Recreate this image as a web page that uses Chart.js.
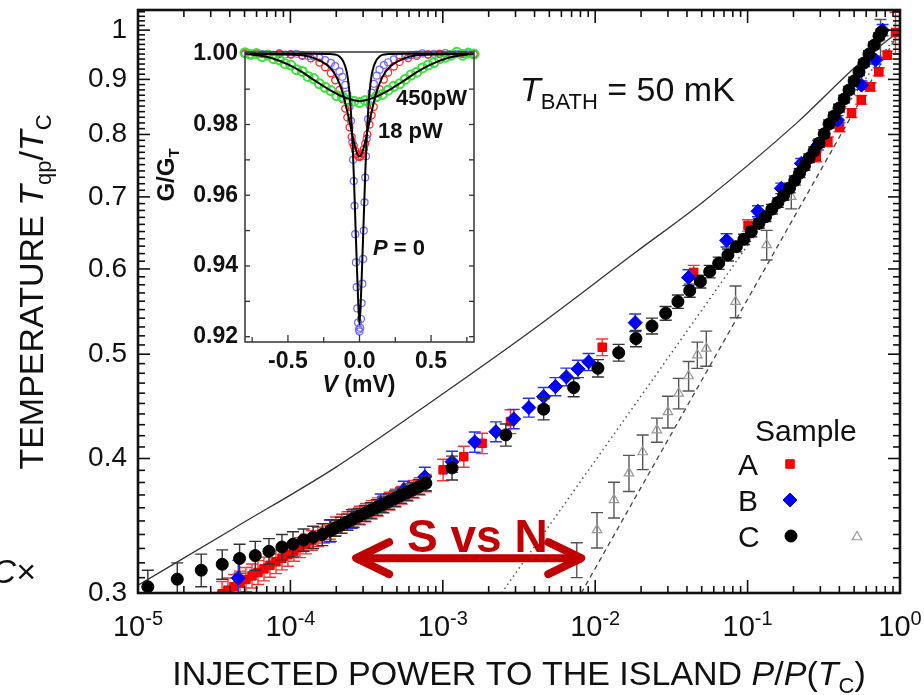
<!DOCTYPE html>
<html>
<head>
<meta charset="utf-8">
<script src="https://cdn.jsdelivr.net/npm/chart.js@4.4.1/dist/chart.umd.min.js"></script>
<style>
  html, body { margin: 0; padding: 0; background: #fff; }
  #wrap { position: relative; width: 924px; height: 695px; overflow: hidden; }
  #wrap canvas { position: absolute; left: 0; top: 0; }
</style>
</head>
<body>
<div id="wrap">
  <canvas id="main" width="924" height="695"></canvas>
  <canvas id="inset" width="924" height="695"></canvas>
</div>
<script>
const FONT = '"Liberation Sans", Arial, Helvetica, sans-serif';

// ---------- Main panel: quasiparticle temperature vs injected power ----------
// Sample A (red squares)
const sampleA_P = [3.56e-5, 3.89e-5, 4.26e-5, 4.67e-5, 5.11e-5, 5.60e-5, 6.13e-5, 6.71e-5, 7.34e-5, 8.04e-5,
  8.80e-5, 9.63e-5, 1.055e-4, 1.155e-4, 1.264e-4, 1.384e-4, 1.515e-4, 1.66e-4, 1.815e-4, 1.99e-4,
  2.18e-4, 2.38e-4, 2.61e-4, 2.86e-4, 3.13e-4, 3.42e-4, 3.75e-4, 4.10e-4, 4.49e-4, 4.92e-4,
  5.38e-4, 5.89e-4, 6.45e-4, 7.06e-4, 7.73e-4,
  1.005e-3, 1.373e-3, 1.81e-3, 2.78e-3, 0.01112, 0.04425, 0.1007,
  0.2821, 0.3362, 0.4013, 0.4808, 0.5566, 0.6405, 0.7261, 0.8243, 0.934];
const sampleA_T = [0.2995, 0.3018, 0.3041, 0.3064, 0.3088, 0.3112, 0.3135, 0.3159, 0.3183, 0.3207,
  0.3232, 0.3257, 0.3281, 0.3306, 0.3332, 0.3357, 0.3383, 0.3409, 0.3436, 0.3460,
  0.3480, 0.3500, 0.3521, 0.3542, 0.3563, 0.3585, 0.3607, 0.3629, 0.3652, 0.3675,
  0.3698, 0.3722, 0.3746, 0.3770, 0.3795,
  0.3904, 0.4016, 0.4132, 0.4329, 0.5075, 0.5956, 0.6585,
  0.7627, 0.7876, 0.8127, 0.8375, 0.8615, 0.8856, 0.9147, 0.948, 0.995];
const sampleA_err = [0.008, 0.008, 0.008, 0.008, 0.008, 0.008, 0.008, 0.008, 0.008, 0.008,
  0.008, 0.008, 0.007, 0.007, 0.007, 0.007, 0.007, 0.007, 0.007, 0.007,
  0.007, 0.007, 0.007, 0.007, 0.007, 0.007, 0.007, 0.007, 0.007, 0.007,
  0.007, 0.007, 0.007, 0.007, 0.007,
  0.009, 0.009, 0.009, 0.011, 0.009, 0.009, 0.008,
  0.008, 0.008, 0.008, 0.008, 0.008, 0.008, 0.008, 0.008, 0.044];

// Sample B (blue diamonds)
const sampleB_P = [4.55e-5, 1.815e-4, 2.53e-4, 3.92e-4, 5.55e-4, 7.62e-4, 1.15e-3, 1.62e-3, 2.23e-3, 2.92e-3,
  3.67e-3, 4.59e-3, 5.48e-3, 6.47e-3, 7.71e-3, 9.06e-3, 0.01829, 0.0409, 0.0728, 0.1169,
  0.1664, 0.2250, 0.289, 0.389, 0.559, 0.691, 0.768];
const sampleB_T = [0.3097, 0.3426, 0.3516, 0.3638, 0.3740, 0.3846, 0.3973, 0.4144, 0.4236, 0.4353,
  0.4460, 0.4566, 0.4665, 0.4763, 0.4845, 0.4918, 0.5349, 0.5890, 0.6379, 0.6788,
  0.7129, 0.7520, 0.7819, 0.8249, 0.8890, 0.9380, 1.000];
const sampleB_err = [0.012, 0.008, 0.007, 0.007, 0.007, 0.008, 0.009, 0.009, 0.009, 0.009,
  0.009, 0.009, 0.009, 0.009, 0.009, 0.009, 0.010, 0.010, 0.009, 0.008,
  0.008, 0.008, 0.008, 0.008, 0.008, 0.008, 0.012];

// Sample C (black circles)
const sampleC_P = [1.16e-5, 1.81e-5, 2.60e-5, 3.57e-5, 4.64e-5, 5.88e-5, 7.23e-5, 8.80e-5, 1.04e-4, 1.22e-4,
  1.41e-4, 1.62e-4, 1.84e-4, 1.96e-4, 2.14e-4, 2.35e-4, 2.57e-4, 2.81e-4, 3.08e-4, 3.37e-4,
  3.69e-4, 4.04e-4, 4.43e-4, 4.85e-4, 5.31e-4, 5.81e-4, 6.36e-4, 6.96e-4, 7.74e-4,
  1.15e-3, 2.59e-3, 4.59e-3, 7.22e-3, 0.01042, 0.01426, 0.0185, 0.02358, 0.0290, 0.0349,
  0.0417, 0.0490, 0.0564, 0.0646, 0.0743, 0.0844, 0.0946, 0.1057, 0.1186, 0.1312,
  0.1443, 0.158, 0.172, 0.1885, 0.204, 0.2193, 0.236, 0.2531, 0.273, 0.2943,
  0.318, 0.3423, 0.369, 0.398, 0.43, 0.4628, 0.50, 0.5384, 0.58, 0.626,
  0.675, 0.728, 0.757];
const sampleC_T = [0.304, 0.309, 0.315, 0.319, 0.323, 0.325, 0.328, 0.331, 0.333, 0.336,
  0.338, 0.340, 0.343, 0.3447, 0.3468, 0.3491, 0.3513, 0.3536, 0.3558, 0.3580,
  0.3603, 0.3625, 0.3649, 0.3672, 0.3695, 0.3718, 0.3741, 0.3765, 0.3793,
  0.392, 0.4207, 0.4445, 0.4655, 0.4852, 0.5016, 0.517, 0.5311, 0.5457, 0.5595,
  0.5728, 0.584, 0.5966, 0.6074, 0.6182, 0.6293, 0.6393, 0.6497, 0.6615, 0.671,
  0.6818, 0.6915, 0.702, 0.7133, 0.725, 0.7365, 0.748, 0.7605, 0.772, 0.7852,
  0.801, 0.818, 0.832, 0.8464, 0.863, 0.8797, 0.897, 0.9142, 0.932, 0.950,
  0.968, 0.987, 0.996];
const sampleC_err = [0.011, 0.011, 0.011, 0.010, 0.010, 0.010, 0.009, 0.009, 0.009, 0.008,
  0.008, 0.008, 0.008, 0.006, 0.006, 0.006, 0.006, 0.006, 0.006, 0.006,
  0.006, 0.006, 0.006, 0.006, 0.006, 0.006, 0.006, 0.006, 0.006,
  0.010, 0.010, 0.010, 0.009, 0.009, 0.009, 0.009, 0.009, 0.008, 0.008,
  0.008, 0.008, 0.008, 0.008, 0.008, 0.007, 0.007, 0.007, 0.007, 0.007,
  0.007, 0.007, 0.007, 0.007, 0.007, 0.007, 0.007, 0.007, 0.007, 0.007,
  0.007, 0.007, 0.007, 0.007, 0.007, 0.007, 0.007, 0.007, 0.007, 0.007,
  0.007, 0.007, 0.007];

// Sample C, normal-metal reference (open grey triangles)
const normalC_P = [7.57e-3, 0.01028, 0.01328, 0.01666, 0.02049, 0.02541, 0.0300, 0.0353, 0.0410, 0.0468,
  0.0536, 0.0834, 0.1334, 0.1935, 0.745];
const normalC_T = [0.322, 0.3433, 0.3662, 0.3877, 0.4056, 0.4251, 0.4420, 0.4598, 0.4772, 0.4991,
  0.5063, 0.5595, 0.6316, 0.7003, 0.983];
const normalC_err = [0.012, 0.013, 0.014, 0.015, 0.015, 0.011, 0.015, 0.015, 0.015, 0.014,
  0.019, 0.019, 0.020, 0.018, 0.040];

// Model curves
const solidP = [1e-5, 4.40e-5, 1.959e-4, 9.14e-4, 3.72e-3, 0.01815, 0.0507, 0.2096, 0.5264, 1];
const solidT = [0.305, 0.3455, 0.3921, 0.4553, 0.5243, 0.6208, 0.6921, 0.8196, 0.928, 1.0];
const dottedP = [2.43e-3, 1];
const dottedT = [0.3, 1];
const dashedP = [8.1e-3, 1];
const dashedT = [0.3, 1];

// Axis ticks
const xTicks = [1e-5, 1e-4, 1e-3, 1e-2, 1e-1, 1];
const xTickExp = ['-5', '-4', '-3', '-2', '-1', '0'];
const yTicks = [0.3, 0.4, 0.5, 0.6, 0.7, 0.8, 0.9, 1];
const yTickLabels = ['0.3', '0.4', '0.5', '0.6', '0.7', '0.8', '0.9', '1'];

// "S vs N" arrow span (P values) and level (T)
const arrowP = [2.7e-4, 8.1e-3];
const arrowT = 0.3232;

// ---------- Inset: normalized conductance vs bias ----------
const biasP0 = [-0.80, -0.76, -0.72, -0.68, -0.64, -0.60, -0.56, -0.52, -0.48, -0.44, -0.40, -0.36, -0.32, -0.28,
  -0.24, -0.20, -0.17, -0.14, -0.12, -0.10, -0.085, -0.07, -0.06, -0.05, -0.045, -0.04, -0.035, -0.03, -0.025,
  -0.02, -0.015, -0.01, -0.005, 0.0, 0.005, 0.01, 0.015, 0.02, 0.025, 0.03, 0.035, 0.04, 0.045, 0.05, 0.06,
  0.07, 0.085, 0.10, 0.12, 0.14, 0.17, 0.20, 0.24, 0.28, 0.32, 0.36, 0.40, 0.44, 0.48, 0.52, 0.56, 0.60,
  0.64, 0.68, 0.72, 0.76, 0.80];
const condP0 = [1.0002, 0.9998, 1.0001, 0.9999, 1.0000, 0.9997, 1.0001, 0.9998, 0.9999, 1.0000, 0.9996, 0.9994, 0.9992, 0.9988,
  0.9982, 0.9974, 0.9965, 0.9950, 0.9935, 0.9912, 0.9885, 0.9850, 0.9810, 0.9750, 0.9700, 0.9640, 0.9570, 0.9490, 0.9410,
  0.9340, 0.9280, 0.9240, 0.9220, 0.9215, 0.9225, 0.9250, 0.9295, 0.9350, 0.9420, 0.9500, 0.9580, 0.9650, 0.9710, 0.9760, 0.9815,
  0.9855, 0.9890, 0.9915, 0.9938, 0.9955, 0.9968, 0.9976, 0.9984, 0.9990, 0.9993, 0.9996, 0.9998, 1.0001, 0.9998, 1.0000, 0.9999, 1.0002,
  0.9998, 1.0000, 0.9999, 1.0001, 0.9999];

const biasP18 = [-0.80, -0.72, -0.64, -0.56, -0.48, -0.40, -0.34, -0.28, -0.24, -0.20, -0.17, -0.14, -0.12, -0.10,
  -0.085, -0.07, -0.055, -0.04, -0.03, -0.02, -0.01, 0.0, 0.01, 0.02, 0.03, 0.04, 0.055, 0.07, 0.085, 0.10,
  0.12, 0.14, 0.17, 0.20, 0.24, 0.28, 0.34, 0.40, 0.48, 0.56, 0.64, 0.72, 0.80];
const condP18 = [0.9999, 1.0001, 0.9998, 1.0000, 0.9998, 0.9994, 0.9987, 0.9975, 0.9962, 0.9945, 0.9925, 0.9898, 0.9872, 0.9845,
  0.9820, 0.9792, 0.9765, 0.9740, 0.9726, 0.9716, 0.9710, 0.9708, 0.9711, 0.9718, 0.9730, 0.9746, 0.9772, 0.9800, 0.9826, 0.9850,
  0.9876, 0.9900, 0.9927, 0.9947, 0.9964, 0.9977, 0.9988, 0.9994, 0.9998, 1.0000, 0.9999, 1.0001, 0.9999];

const biasP450 = [-0.80, -0.76, -0.72, -0.68, -0.64, -0.60, -0.56, -0.52, -0.48, -0.44, -0.40, -0.36, -0.32, -0.28,
  -0.24, -0.20, -0.16, -0.12, -0.08, -0.04, 0.00, 0.04, 0.08, 0.12, 0.16, 0.20, 0.24, 0.28, 0.32, 0.36,
  0.40, 0.44, 0.48, 0.52, 0.56, 0.60, 0.64, 0.68, 0.72, 0.76, 0.80];
const condP450 = [1.0003, 0.9998, 1.0001, 0.9992, 0.9996, 0.9986, 0.9983, 0.9972, 0.9968, 0.9955, 0.9950, 0.9936, 0.9930, 0.9915,
  0.9905, 0.9896, 0.9882, 0.9878, 0.9868, 0.9866, 0.9862, 0.9868, 0.9870, 0.9880, 0.9885, 0.9897, 0.9908, 0.9915, 0.9928, 0.9940,
  0.9948, 0.9960, 0.9968, 0.9975, 0.9986, 0.9990, 0.9996, 1.0004, 0.9996, 1.0002, 0.9999];

// Fitted curves
const fitV0 = [-0.80, -0.30, -0.20, -0.16, -0.14, -0.12, -0.10, -0.085, -0.07, -0.06, -0.05, -0.04, -0.03, -0.02, -0.01, 0,
  0.01, 0.02, 0.03, 0.04, 0.05, 0.06, 0.07, 0.085, 0.10, 0.12, 0.14, 0.16, 0.20, 0.30, 0.80];
const fitG0 = [1.0000, 1.0000, 0.9999, 0.9997, 0.9992, 0.9983, 0.9965, 0.9940, 0.9890, 0.9835, 0.9760, 0.9660, 0.9540, 0.9420, 0.9310, 0.9235,
  0.9310, 0.9420, 0.9540, 0.9660, 0.9760, 0.9835, 0.9890, 0.9940, 0.9965, 0.9983, 0.9992, 0.9997, 0.9999, 1.0000, 1.0000];
const fitV18 = [-0.80, -0.40, -0.30, -0.24, -0.20, -0.16, -0.12, -0.10, -0.08, -0.06, -0.04, -0.02, 0,
  0.02, 0.04, 0.06, 0.08, 0.10, 0.12, 0.16, 0.20, 0.24, 0.30, 0.40, 0.80];
const fitG18 = [1.0000, 0.9996, 0.9985, 0.9972, 0.9958, 0.9934, 0.9893, 0.9862, 0.9827, 0.9790, 0.9752, 0.9722, 0.9710,
  0.9722, 0.9752, 0.9790, 0.9827, 0.9862, 0.9893, 0.9934, 0.9958, 0.9972, 0.9985, 0.9996, 1.0000];
const fitV450 = [-0.80, -0.70, -0.60, -0.50, -0.40, -0.30, -0.20, -0.10, 0, 0.10, 0.20, 0.30, 0.40, 0.50, 0.60, 0.70, 0.80];
const fitG450 = [1.0000, 0.9995, 0.9986, 0.9970, 0.9948, 0.9921, 0.9896, 0.9876, 0.9866, 0.9876, 0.9896, 0.9921, 0.9948, 0.9970, 0.9986, 0.9995, 1.0000];

const insetXTicks = [-0.5, 0, 0.5];
const insetXLabels = ['-0.5', '0.0', '0.5'];
const insetYTicks = [0.92, 0.94, 0.96, 0.98, 1.00];
const insetYLabels = ['0.92', '0.94', '0.96', '0.98', '1.00'];

// ---------- helpers ----------
function pts(xs, ys) { return xs.map((v, i) => ({ x: v, y: ys[i] })); }

function drawRich(ctx, parts, x, y, align) {
  let w = 0;
  for (const p of parts) { ctx.font = p.f; w += ctx.measureText(p.t).width; }
  let cx = align === 'center' ? x - w / 2 : (align === 'right' ? x - w : x);
  ctx.textAlign = 'left';
  ctx.textBaseline = 'alphabetic';
  for (const p of parts) {
    ctx.font = p.f;
    ctx.fillText(p.t, cx, y + (p.dy || 0));
    cx += ctx.measureText(p.t).width;
  }
}

function seg(ctx, x1, y1, x2, y2) { ctx.beginPath(); ctx.moveTo(x1, y1); ctx.lineTo(x2, y2); ctx.stroke(); }

function marker(ctx, style, x, y, r, fill, stroke, lw) {
  ctx.save();
  ctx.fillStyle = fill; ctx.strokeStyle = stroke; ctx.lineWidth = lw || 1;
  ctx.beginPath();
  if (style === 'rect') { const s = r * Math.SQRT1_2; ctx.rect(x - s, y - s, 2 * s, 2 * s); }
  else if (style === 'rectRot') { ctx.moveTo(x, y - r); ctx.lineTo(x + r, y); ctx.lineTo(x, y + r); ctx.lineTo(x - r, y); ctx.closePath(); }
  else if (style === 'triangle') {
    ctx.moveTo(x, y - r); ctx.lineTo(x + r * 0.866, y + r * 0.5); ctx.lineTo(x - r * 0.866, y + r * 0.5); ctx.closePath();
  } else { ctx.arc(x, y, r, 0, Math.PI * 2); }
  if (fill !== 'none') ctx.fill();
  ctx.stroke();
  ctx.restore();
}

// White page background
const whiteBg = {
  id: 'whiteBg',
  beforeDraw(chart) {
    const c = chart.ctx;
    c.save(); c.fillStyle = '#fff'; c.fillRect(0, 0, chart.width, chart.height); c.restore();
  }
};

// Vertical error bars with caps, drawn right under each dataset's markers
const errorBars = {
  id: 'errorBars',
  beforeDatasetDraw(chart, args) {
    const ds = chart.data.datasets[args.index];
    if (!ds.errors) return;
    const { ctx, chartArea: a, scales: { x, y } } = chart;
    ctx.save();
    ctx.beginPath(); ctx.rect(a.left, a.top, a.right - a.left, a.bottom - a.top); ctx.clip();
    ctx.strokeStyle = ds.errorColor; ctx.lineWidth = 1.4;
    const c = ds.capHalf || 6;
    ds.data.forEach((p, i) => {
      const e = ds.errors[i];
      if (!e) return;
      const px = x.getPixelForValue(p.x);
      const y1 = y.getPixelForValue(p.y + e);
      const y2 = y.getPixelForValue(Math.max(p.y - e, 1e-3));
      ctx.beginPath();
      ctx.moveTo(px, y1); ctx.lineTo(px, y2);
      ctx.moveTo(px - c, y1); ctx.lineTo(px + c, y1);
      ctx.moveTo(px - c, y2); ctx.lineTo(px + c, y2);
      ctx.stroke();
    });
    ctx.restore();
  }
};

// Frame, inward ticks, tick labels, titles, legend and annotations of the main panel
const mainDecor = {
  id: 'mainDecor',
  afterDraw(chart) {
    const { ctx, chartArea: a, scales: { x, y } } = chart;
    ctx.save();
    ctx.strokeStyle = '#111'; ctx.lineWidth = 1.6;
    for (let d = -5; d <= 0; d++) {
      for (let m = 1; m <= 9; m++) {
        const v = m * Math.pow(10, d);
        if (v > 1.0001) break;
        const px = x.getPixelForValue(v);
        const L = m === 1 ? 13 : 7;
        seg(ctx, px, a.bottom, px, a.bottom - L);
        seg(ctx, px, a.top, px, a.top + L);
      }
    }
    for (let k = 30; k <= 104; k++) {
      const py = y.getPixelForValue(k / 100);
      const L = k % 10 === 0 ? 12 : 7;
      seg(ctx, a.left, py, a.left + L, py);
      seg(ctx, a.right, py, a.right - L, py);
    }
    ctx.lineWidth = 2.6; ctx.strokeStyle = '#111';
    ctx.strokeRect(a.left, a.top, a.right - a.left, a.bottom - a.top);

    ctx.fillStyle = '#111';
    // y tick labels
    ctx.font = '28px ' + FONT; ctx.textAlign = 'right'; ctx.textBaseline = 'middle';
    yTicks.forEach((v, i) => ctx.fillText(yTickLabels[i], a.left - 11, y.getPixelForValue(v)));
    // x tick labels 10^n
    xTicks.forEach((v, i) => {
      drawRich(ctx, [{ t: '10', f: '29px ' + FONT }, { t: xTickExp[i], f: '20px ' + FONT, dy: -11 }],
        x.getPixelForValue(v), a.bottom + 43, 'center');
    });
    // x title
    const F = '34px ' + FONT, FI = 'italic 34px ' + FONT, FS = '22px ' + FONT;
    drawRich(ctx, [{ t: 'INJECTED POWER TO THE ISLAND ', f: F }, { t: 'P', f: FI }, { t: '/', f: F },
      { t: 'P', f: FI }, { t: '(', f: F }, { t: 'T', f: FI }, { t: 'C', f: FS, dy: 8 }, { t: ')', f: F }], 519, 685, 'center');
    // y title
    ctx.save(); ctx.translate(43, 292); ctx.rotate(-Math.PI / 2);
    drawRich(ctx, [{ t: 'TEMPERATURE ', f: F }, { t: 'T', f: FI }, { t: 'qp', f: FS, dy: 8 },
      { t: '/', f: F }, { t: 'T', f: FI }, { t: 'C', f: FS, dy: 8 }], 0, 0, 'center');
    ctx.restore();
    // partial symbol at the left margin
    drawRich(ctx, [{ t: 'C', f: 'italic 34px ' + FONT }, { t: '\u00d7', f: '34px ' + FONT }], 36, 583, 'right');

    // bath temperature
    drawRich(ctx, [{ t: 'T', f: 'italic 34px ' + FONT }, { t: 'BATH', f: '22px ' + FONT, dy: 8 },
      { t: ' = 50 mK', f: '34px ' + FONT }], 520, 101, 'left');

    // legend
    ctx.font = '30px ' + FONT; ctx.textAlign = 'left'; ctx.textBaseline = 'alphabetic';
    ctx.fillText('Sample', 755, 441);
    ctx.fillText('A', 738, 475);
    ctx.fillText('B', 738, 511);
    ctx.fillText('C', 738, 547);
    marker(ctx, 'rect', 790, 464, 6, '#ff0000', '#e00000', 1);
    marker(ctx, 'rectRot', 790, 500, 7, '#0000ff', '#0000dd', 1);
    marker(ctx, 'circle', 791, 536, 6, '#000', '#000', 1);
    marker(ctx, 'triangle', 857, 537, 5.5, 'none', '#999', 1.2);

    // S vs N arrow
    const xl = x.getPixelForValue(arrowP[0]), xr = x.getPixelForValue(arrowP[1]), ya = y.getPixelForValue(arrowT);
    ctx.strokeStyle = '#c00000'; ctx.lineWidth = 8; ctx.lineCap = 'round'; ctx.lineJoin = 'round';
    seg(ctx, xl + 4, ya, xr - 4, ya);
    ctx.beginPath(); ctx.moveTo(xl + 33, ya - 16); ctx.lineTo(xl, ya); ctx.lineTo(xl + 33, ya + 16); ctx.stroke();
    ctx.beginPath(); ctx.moveTo(xr - 33, ya - 16); ctx.lineTo(xr, ya); ctx.lineTo(xr - 33, ya + 16); ctx.stroke();
    ctx.fillStyle = '#c00000'; ctx.font = 'bold 46px ' + FONT; ctx.textAlign = 'left'; ctx.textBaseline = 'alphabetic';
    ctx.fillText('S vs N', 407, 552);
    ctx.restore();
  }
};

new Chart(document.getElementById('main'), {
  type: 'scatter',
  data: {
    datasets: [
      { label: 'C', data: pts(sampleC_P, sampleC_T), errors: sampleC_err, errorColor: '#333',
        pointStyle: 'circle', pointRadius: 6, backgroundColor: '#000', borderColor: '#000', borderWidth: 1, clip: 0 },
      { label: 'B', data: pts(sampleB_P, sampleB_T), errors: sampleB_err, errorColor: '#2233ff',
        pointStyle: 'rectRot', pointRadius: 7, backgroundColor: '#0000ff', borderColor: '#0000dd', borderWidth: 1, clip: 0 },
      { label: 'A', data: pts(sampleA_P, sampleA_T), errors: sampleA_err, errorColor: '#ff3333',
        pointStyle: 'rect', pointRadius: 6, backgroundColor: '#ff0000', borderColor: '#e00000', borderWidth: 1, clip: 0 },
      { label: 'C normal', data: pts(normalC_P, normalC_T), errors: normalC_err, errorColor: '#555',
        pointStyle: 'triangle', pointRadius: 5.5, backgroundColor: 'rgba(255,255,255,0)', borderColor: '#999', borderWidth: 1.2, clip: 0 },
      { label: 'model', data: pts(solidP, solidT), showLine: true, pointRadius: 0, borderColor: '#333',
        borderWidth: 1.3, cubicInterpolationMode: 'monotone', fill: false, clip: 0 },
      { label: 'T^5', data: pts(dottedP, dottedT), showLine: true, pointRadius: 0, borderColor: '#555',
        borderWidth: 1.5, borderDash: [1.5, 3.5], fill: false, clip: 0 },
      { label: 'T^4', data: pts(dashedP, dashedT), showLine: true, pointRadius: 0, borderColor: '#444',
        borderWidth: 1.3, borderDash: [5, 4], fill: false, clip: 0 }
    ]
  },
  options: {
    responsive: false, animation: false, devicePixelRatio: 1,
    layout: { padding: { left: 138, right: 24, top: 10, bottom: 102 } },
    plugins: { legend: { display: false }, tooltip: { enabled: false } },
    events: [],
    scales: {
      x: { type: 'logarithmic', min: 1e-5, max: 1, display: false },
      y: { type: 'logarithmic', min: 0.3, max: 1.044, display: false }
    }
  },
  plugins: [whiteBg, errorBars, mainDecor]
});

// ---------- inset ----------
const insetDecor = {
  id: 'insetDecor',
  afterDraw(chart) {
    const { ctx, chartArea: a, scales: { x, y } } = chart;
    ctx.save();
    ctx.strokeStyle = '#333'; ctx.lineWidth = 1.3;
    [-0.75, -0.5, -0.25, 0, 0.25, 0.5, 0.75].forEach(v => {
      const px = x.getPixelForValue(v);
      const L = Math.abs(v * 4) % 2 === 0 ? 7 : 5;
      seg(ctx, px, a.bottom, px, a.bottom - L);
    });
    for (let k = 92; k <= 100; k++) {
      const py = y.getPixelForValue(k / 100);
      seg(ctx, a.left, py, a.left + 5, py);
      seg(ctx, a.right, py, a.right - 5, py);
    }
    ctx.lineWidth = 1.5;
    ctx.strokeRect(a.left, a.top, a.right - a.left, a.bottom - a.top);

    ctx.fillStyle = '#111';
    ctx.font = 'bold 23px ' + FONT; ctx.textAlign = 'right'; ctx.textBaseline = 'middle';
    insetYTicks.forEach((v, i) => ctx.fillText(insetYLabels[i], a.left - 7, y.getPixelForValue(v)));
    ctx.textAlign = 'center'; ctx.textBaseline = 'alphabetic';
    insetXTicks.forEach((v, i) => ctx.fillText(insetXLabels[i], x.getPixelForValue(v), a.bottom + 26));

    drawRich(ctx, [{ t: 'V', f: 'italic bold 23px ' + FONT }, { t: ' (mV)', f: 'bold 23px ' + FONT }], 359, 392, 'center');
    ctx.save(); ctx.translate(174, 175); ctx.rotate(-Math.PI / 2);
    drawRich(ctx, [{ t: 'G/G', f: 'bold 24px ' + FONT }, { t: 'T', f: 'bold 15px ' + FONT, dy: 5 }], 0, 0, 'center');
    ctx.restore();

    drawRich(ctx, [{ t: '450pW', f: 'bold 22px ' + FONT }], 396, 105, 'left');
    drawRich(ctx, [{ t: '18 pW', f: 'bold 22px ' + FONT }], 378, 138, 'left');
    drawRich(ctx, [{ t: 'P', f: 'italic bold 22px ' + FONT }, { t: ' = 0', f: 'bold 22px ' + FONT }], 373, 255, 'left');
    ctx.restore();
  }
};

new Chart(document.getElementById('inset'), {
  type: 'scatter',
  data: {
    datasets: [
      { label: 'fit 0', data: pts(fitV0, fitG0), showLine: true, pointRadius: 0, borderColor: '#000', borderWidth: 2,
        cubicInterpolationMode: 'monotone', fill: false, clip: false },
      { label: 'fit 18 pW', data: pts(fitV18, fitG18), showLine: true, pointRadius: 0, borderColor: '#000', borderWidth: 2,
        cubicInterpolationMode: 'monotone', fill: false, clip: false },
      { label: 'fit 450 pW', data: pts(fitV450, fitG450), showLine: true, pointRadius: 0, borderColor: '#000', borderWidth: 2,
        cubicInterpolationMode: 'monotone', fill: false, clip: false },
      { label: '450 pW', data: pts(biasP450, condP450), pointStyle: 'circle', pointRadius: 4.5,
        backgroundColor: 'rgba(255,255,255,0)', borderColor: '#3ee03e', borderWidth: 2, clip: false },
      { label: '18 pW', data: pts(biasP18, condP18), pointStyle: 'circle', pointRadius: 3.5,
        backgroundColor: 'rgba(255,255,255,0)', borderColor: '#ff2a2a', borderWidth: 1.3, clip: false },
      { label: 'P = 0', data: pts(biasP0, condP0), pointStyle: 'circle', pointRadius: 3.5,
        backgroundColor: 'rgba(255,255,255,0)', borderColor: '#6b6bff', borderWidth: 1.2, clip: false }
    ]
  },
  options: {
    responsive: false, animation: false, devicePixelRatio: 1,
    layout: { padding: { left: 245, right: 450, top: 52, bottom: 353 } },
    plugins: { legend: { display: false }, tooltip: { enabled: false } },
    events: [],
    scales: {
      x: { type: 'linear', min: -0.8, max: 0.8, display: false },
      y: { type: 'linear', min: 0.9185, max: 1.0005, display: false }
    }
  },
  plugins: [insetDecor]
});
</script>
</body>
</html>
